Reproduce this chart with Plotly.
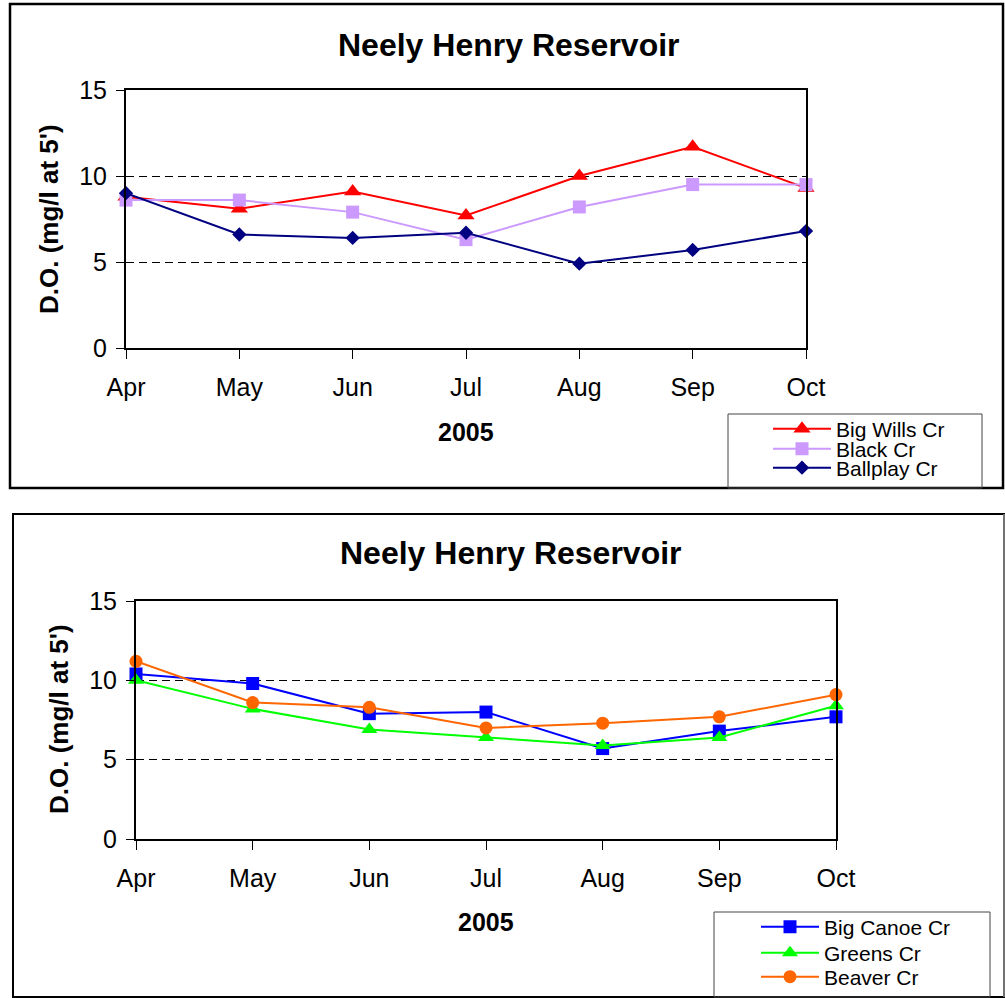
import plotly.graph_objects as go

# Sampling months (2005)
months = ["Apr", "May", "Jun", "Jul", "Aug", "Sep", "Oct"]

# Dissolved oxygen at 5 ft (mg/l) - upper panel creeks
big_wills = [8.8, 8.1, 9.1, 7.7, 10.0, 11.7, 9.3]
black_cr = [8.6, 8.6, 7.9, 6.3, 8.2, 9.5, 9.5]
ballplay = [9.0, 6.6, 6.4, 6.7, 4.9, 5.7, 6.8]

# Lower panel creeks
big_canoe = [10.4, 9.8, 7.9, 8.0, 5.7, 6.8, 7.7]
greens = [10.0, 8.2, 6.9, 6.4, 5.9, 6.4, 8.4]
beaver = [11.2, 8.6, 8.3, 7.0, 7.3, 7.7, 9.1]

y_ticks = [0, 5, 10, 15]

W, H = 1005, 998
FONT = "Liberation Sans, Arial, sans-serif"


def px_x(x):
    return x / W


def px_y(y):
    return 1 - y / H


fig = go.Figure()

series = [
    # name, values, color, symbol, size, xaxis, yaxis, legend
    ("Big Wills Cr", big_wills, "#FF0000", "triangle-up", 15, "x", "y", "legend"),
    ("Black Cr", black_cr, "#CC99FF", "square", 13, "x", "y", "legend2"),
    ("Ballplay Cr", ballplay, "#000080", "diamond", 11, "x", "y", "legend3"),
    ("Big Canoe Cr", big_canoe, "#0000FF", "square", 13, "x2", "y2", "legend4"),
    ("Greens Cr", greens, "#00FF00", "triangle-up", 14, "x2", "y2", "legend5"),
    ("Beaver Cr", beaver, "#FF6600", "circle", 13, "x2", "y2", "legend6"),
]

for name, vals, color, sym, size, xa, ya, lg in series:
    fig.add_trace(go.Scatter(
        x=months, y=vals, name=name, mode="lines+markers",
        line=dict(color=color, width=2),
        marker=dict(color=color, symbol=sym, size=size, line=dict(width=0)),
        xaxis=xa, yaxis=ya, legend=lg, cliponaxis=False,
    ))

axis_common = dict(
    showline=True, linecolor="black", linewidth=2, mirror=True,
    ticks="outside", tickcolor="black", tickwidth=1,
    tickfont=dict(family=FONT, size=25, color="black"),
    zeroline=False, automargin=False,
)

x_common = dict(axis_common, type="category", range=[0, 6], showgrid=False,
                ticklen=9, ticklabelstandoff=7)
y_common = dict(axis_common, range=[0, 15], tickvals=y_ticks, ticklen=8,
                showgrid=True, gridcolor="black", gridwidth=1,
                griddash="8px,5px", ticklabelstandoff=4)

fig.update_layout(
    width=W, height=H,
    margin=dict(l=0, r=0, t=0, b=0, pad=0, autoexpand=False),
    paper_bgcolor="white", plot_bgcolor="white",
    xaxis=dict(x_common, domain=[px_x(126), px_x(806)], anchor="y"),
    yaxis=dict(y_common, domain=[px_y(348), px_y(90)], anchor="x"),
    xaxis2=dict(x_common, domain=[px_x(136), px_x(836)], anchor="y2"),
    yaxis2=dict(y_common, domain=[px_y(839), px_y(601)], anchor="x2"),
    showlegend=True,
)

# One legend per entry so that row spacing can follow each panel's legend box
legend_rows = [
    ("legend", 768, 429), ("legend2", 768, 449), ("legend3", 768, 468),
    ("legend4", 756, 927), ("legend5", 756, 953), ("legend6", 756, 977),
]
for key, lx, ly in legend_rows:
    fig.update_layout({key: dict(
        x=px_x(lx), y=px_y(ly), xanchor="left", yanchor="middle",
        xref="paper", yref="paper",
        bgcolor="rgba(0,0,0,0)", borderwidth=0,
        font=dict(family=FONT, size=21, color="black"),
        itemwidth=58,
    )})

shapes = [
    # chart borders
    dict(type="rect", x0=px_x(10), x1=px_x(1003), y0=px_y(488), y1=px_y(4),
         line=dict(color="black", width=2.5)),
    dict(type="rect", x0=px_x(13), x1=px_x(1004), y0=px_y(997), y1=px_y(514),
         line=dict(color="black", width=2)),
    dict(type="line", x0=px_x(1004), x1=px_x(1004), y0=px_y(997), y1=px_y(514),
         line=dict(color="#999999", width=1.5)),
    # legend boxes
    dict(type="rect", x0=px_x(728), x1=px_x(982), y0=px_y(488), y1=px_y(414),
         line=dict(color="#444444", width=1)),
    dict(type="rect", x0=px_x(714), x1=px_x(990), y0=px_y(997), y1=px_y(912),
         line=dict(color="#444444", width=1)),
]
for s in shapes:
    s.update(xref="paper", yref="paper", layer="above")
fig.update_layout(shapes=shapes)

title = "Neely Henry Reservoir"
ytitle = "D.O. (mg/l at 5')"
xtitle = "2005"

ann = []
for cx, cy in [(509, 45), (511, 553)]:
    ann.append(dict(text=f"<b>{title}</b>", x=px_x(cx), y=px_y(cy),
                    font=dict(family=FONT, size=32, color="black")))
for cx, cy in [(49, 219), (59, 719)]:
    ann.append(dict(text=f"<b>{ytitle}</b>", x=px_x(cx), y=px_y(cy), textangle=-90,
                    font=dict(family=FONT, size=26, color="black")))
for cx, cy in [(466, 432), (486, 922)]:
    ann.append(dict(text=f"<b>{xtitle}</b>", x=px_x(cx), y=px_y(cy),
                    font=dict(family=FONT, size=25, color="black")))
for a in ann:
    a.update(xref="paper", yref="paper", xanchor="center", yanchor="middle",
             showarrow=False)
fig.update_layout(annotations=ann)

fig.write_html("out.html")
